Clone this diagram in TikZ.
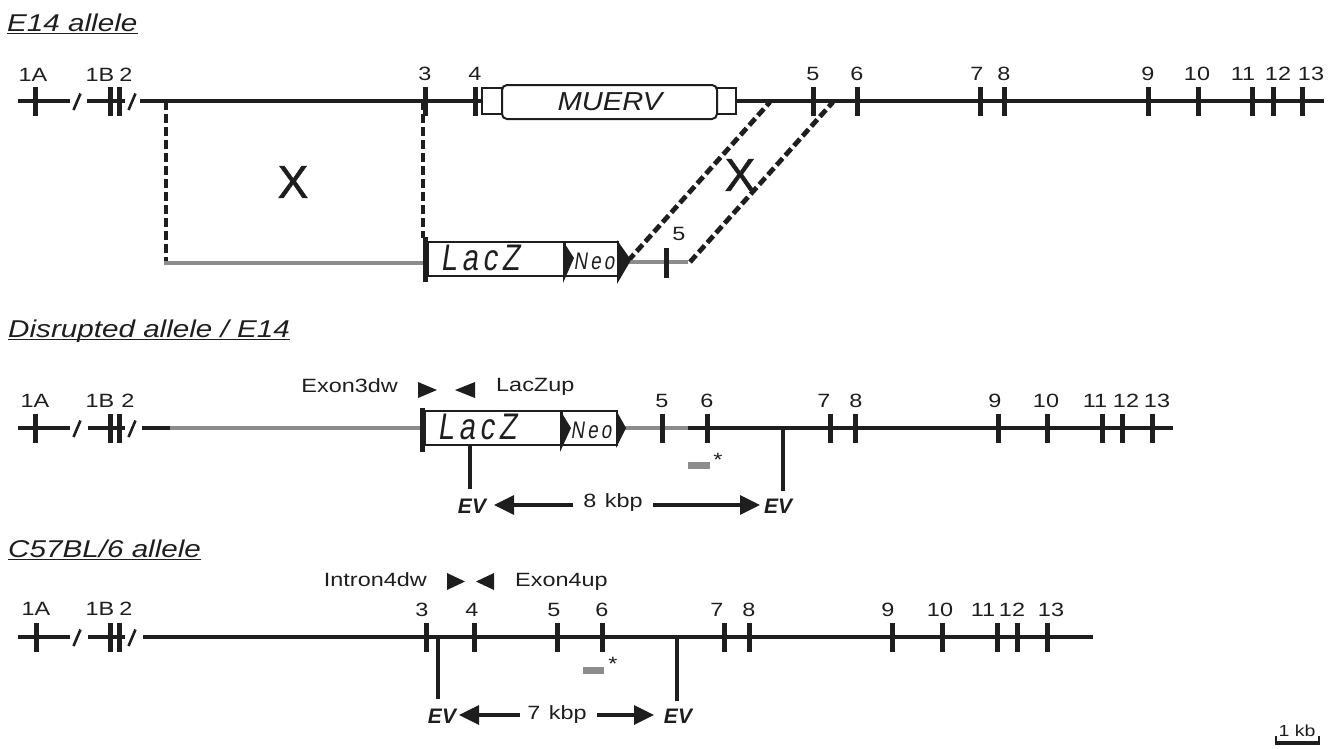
\documentclass[tikz,border=0pt]{standalone}
\usepackage{fontspec}
\setmainfont{Liberation Sans}
\newfontfamily\lblfont{Liberation Sans}[FakeStretch=1.22]
\newfontfamily\muervfont{Liberation Sans}[FakeStretch=1.12]
\newfontfamily\xfont{Liberation Sans}[FakeBold=1.2]
\newfontfamily\laczfont{Liberation Sans}[FakeStretch=0.78,FakeSlant=0.15,LetterSpace=13]
\usetikzlibrary{arrows.meta}
\definecolor{ink}{HTML}{1E1E1E}
\definecolor{gline}{HTML}{8C8C8C}
\newcommand\myexon[5]{\draw[tk] (#1,#2-14) -- (#1,#2+15); \node[lbl] (#4) at (#5,#2-27) {#3};}
\newcommand\myslash[2]{\draw[draw=ink,line width=2.6pt] (#1-3.5,#2+9) -- (#1+3.5,#2-7.5);}
\begin{document}
\begin{tikzpicture}[x=1pt,y=-1pt,
  bk/.style={draw=ink,line width=4.6pt},
  gy/.style={draw=gline,line width=4.6pt},
  tk/.style={draw=ink,line width=5pt},
  dsh/.style={draw=ink,line width=4.8pt,dash pattern=on 9pt off 4pt},
  boxln/.style={draw=ink,line width=2.6pt,fill=white},
  lbl/.style={inner sep=0pt,text=ink,font=\lblfont\fontsize{19.2}{20}\selectfont},
  ttl/.style={inner sep=0pt,anchor=base west,text=ink,font=\lblfont\itshape\fontsize{24.3}{26}\selectfont},
  ul/.style={draw=ink,line width=1.5pt},
  evl/.style={inner sep=0pt,text=ink,font=\bfseries\itshape\fontsize{21}{22}\selectfont},
  bigx/.style={inner sep=0pt,text=ink,font=\xfont\fontsize{46}{48}\selectfont},
  laczt/.style={inner sep=0pt,text=ink,font=\laczfont\fontsize{37}{38}\selectfont},
  neot/.style={inner sep=0pt,text=ink,font=\laczfont\fontsize{24}{25}\selectfont},
  arr/.style={draw=ink,line width=3.4pt,-{Triangle[length=20pt,width=19pt]}},
  primer/.style={fill=ink,draw=none},
  probe/.style={fill=gline,draw=none}
]
\useasboundingbox (0,0) rectangle (1342,748);

% ================= Row 1: E14 allele =================
\node[ttl] (t1) at (7,31) {E14 allele};
\draw[ul] ([yshift=-2.5pt]t1.base west) -- ([yshift=-2.5pt]t1.base east);

\draw[bk] (18,101) -- (70,101);
\draw[bk] (87,101) -- (125,101);
\draw[bk] (140,101) -- (482,101);
\draw[bk] (736,101) -- (1324,101);
\myslash{77}{101}
\myslash{132}{101}
\draw[tk] (35,87) -- (35,116);  \node[lbl] (a1) at (33,75) {1A};
\draw[tk] (110,87) -- (110,116); \node[lbl] (a1b) at (100,75) {1B};
\draw[tk] (119,87) -- (119,116); \node[lbl] (a2) at (126,75) {2};
\myexon{425}{101}{3}{a3}{425}
\myexon{475}{101}{4}{a4}{475}
\myexon{813}{101}{5}{a5}{813}
\myexon{857}{101}{6}{a6}{857}
\myexon{980}{101}{7}{a7}{977}
\myexon{1004}{101}{8}{a8}{1004}
\myexon{1148}{101}{9}{a9}{1148}
\myexon{1198}{101}{10}{a10}{1197}
\myexon{1252}{101}{11}{a11}{1243}
\myexon{1273}{101}{12}{a12}{1278}
\myexon{1302}{101}{13}{a13}{1311}

% MUERV element
\draw[draw=ink,line width=2pt,fill=white] (482,88) rectangle (502,114);
\draw[draw=ink,line width=2pt,fill=white] (717,88) rectangle (736,114);
\draw[draw=ink,line width=2pt,fill=white,rounded corners=5pt] (502,85) rectangle (717,119);
\node[inner sep=0pt,text=ink,font=\muervfont\itshape\fontsize{26}{28}\selectfont] (muerv) at (610,102) {MUERV};

% targeting vector
\draw[dsh] (166,101) -- (166,263);
\draw[dsh] (423,101) -- (423,238);
\draw[gy] (164,263) -- (425,263);
\draw[dsh] (628,261) -- (770,102);
\draw[dsh] (690,262) -- (833,102);
\node[bigx] (x1) at (293,182) {X};
\node[bigx] (x2) at (740,175) {X};

\draw[gy] (628,262) -- (688,262);
\draw[tk] (666,248) -- (666,278);
\node[lbl] (v5) at (679,234) {5};
\draw[boxln] (428,242) rectangle (565,276);
\draw[boxln] (565,242) rectangle (618,276);
\draw[draw=ink,line width=5pt] (425,237) -- (425,282);
\fill[ink] (563,241) -- (574,258) -- (563,283) -- cycle;
\fill[ink] (617,240) -- (631,260) -- (617,284) -- cycle;
\node[laczt] (lz1) at (480,258) {LacZ};
\node[neot] (ne1) at (594,261) {Neo};

% ================= Row 2: Disrupted allele =================
\node[ttl] (t2) at (8,337) {Disrupted allele / E14};
\draw[ul] ([yshift=-2.5pt]t2.base west) -- ([yshift=-2.5pt]t2.base east);

\draw[bk] (18,428) -- (70,428);
\draw[bk] (88,428) -- (125,428);
\draw[bk] (142,428) -- (171,428);
\draw[gy] (170,428) -- (422,428);
\draw[gy] (624,428) -- (689,428);
\draw[bk] (688,428) -- (1173,428);
\myslash{77}{428}
\myslash{132}{428}
\draw[tk] (35,414) -- (35,443);  \node[lbl] (b1) at (35,401) {1A};
\draw[tk] (110,414) -- (110,443); \node[lbl] (b1b) at (100,401) {1B};
\draw[tk] (119,414) -- (119,443); \node[lbl] (b2) at (128,401) {2};
\myexon{662}{428}{5}{b5}{662}
\myexon{707}{428}{6}{b6}{707}
\myexon{830}{428}{7}{b7}{824}
\myexon{855}{428}{8}{b8}{856}
\myexon{998}{428}{9}{b9}{995}
\myexon{1047}{428}{10}{b10}{1046}
\myexon{1102}{428}{11}{b11}{1095}
\myexon{1122}{428}{12}{b12}{1126}
\myexon{1152}{428}{13}{b13}{1157}

\draw[boxln] (425,411) rectangle (562,445);
\draw[boxln] (562,411) rectangle (617,445);
\draw[draw=ink,line width=5pt] (422,408) -- (422,452);
\fill[ink] (560,410) -- (571,428) -- (560,452) -- cycle;
\fill[ink] (616,410) -- (626,428) -- (616,448) -- cycle;
\node[laczt] (lz2) at (477,427) {LacZ};
\node[neot] (ne2) at (591,430) {Neo};

\fill[primer] (418,382) -- (437,390) -- (418,398) -- cycle;
\fill[primer] (475,382) -- (455,390) -- (475,398) -- cycle;
\node[lbl,anchor=east] (p1) at (398,386) {Exon3dw};
\node[lbl,anchor=west] (p2) at (496,387) {LacZup};

\draw[draw=ink,line width=4.5pt] (470,445) -- (470,489);
\draw[draw=ink,line width=4.5pt] (783,428) -- (783,491);
\node[evl] (ev1) at (472,506) {EV};
\node[evl] (ev2) at (778,506) {EV};
\node[lbl] (kb8) at (613,503) {8\hspace{0.45em}kbp};
\draw[arr] (573,505) -- (494,505);
\draw[arr] (653,505) -- (760,505);
\fill[probe] (688,462) rectangle (710,468.5);
\node[lbl] (s1) at (718,460) {*};

% ================= Row 3: C57BL/6 allele =================
\node[ttl] (t3) at (8,557) {C57BL/6 allele};
\draw[ul] ([yshift=-2.5pt]t3.base west) -- ([yshift=-2.5pt]t3.base east);

\draw[bk] (18,637) -- (70,637);
\draw[bk] (88,637) -- (125,637);
\draw[bk] (143,637) -- (1093,637);
\myslash{77}{637}
\myslash{132}{637}
\draw[tk] (36,623) -- (36,652);  \node[lbl] (c1) at (36,609) {1A};
\draw[tk] (110,623) -- (110,652); \node[lbl] (c1b) at (100,609) {1B};
\draw[tk] (119,623) -- (119,652); \node[lbl] (c2) at (126,609) {2};
\myexon{426}{637}{3}{c3}{422}
\myexon{474}{637}{4}{c4}{472}
\myexon{557}{637}{5}{c5}{554}
\myexon{602}{637}{6}{c6}{602}
\myexon{724}{637}{7}{c7}{717}
\myexon{749}{637}{8}{c8}{749}
\myexon{892}{637}{9}{c9}{888}
\myexon{942}{637}{10}{c10}{940}
\myexon{997}{637}{11}{c11}{983}
\myexon{1017}{637}{12}{c12}{1012}
\myexon{1047}{637}{13}{c13}{1051}

\fill[primer] (447,573) -- (465,581.5) -- (447,590) -- cycle;
\fill[primer] (494,573) -- (476,581.5) -- (494,590) -- cycle;
\node[lbl,anchor=east] (p3) at (427,580) {Intron4dw};
\node[lbl,anchor=west] (p4) at (515,582) {Exon4up};

\draw[draw=ink,line width=4.5pt] (438,637) -- (438,699);
\draw[draw=ink,line width=4.5pt] (677,637) -- (677,701);
\node[evl] (ev3) at (442,716) {EV};
\node[evl] (ev4) at (678,716) {EV};
\node[lbl] (kb7) at (557,715) {7\hspace{0.45em}kbp};
\draw[arr] (520,715) -- (459,715);
\draw[arr] (597,715) -- (654,715);
\fill[probe] (583,667) rectangle (604,673.5);
\node[lbl] (s2) at (613,664) {*};

% scale bar
\node[inner sep=0pt,text=ink,font=\lblfont\fontsize{16}{17}\selectfont] (kb) at (1297,731) {1 kb};
\draw[draw=ink,line width=3.5pt] (1275,743) -- (1320,743);
\draw[draw=ink,line width=1.5pt] (1276,736) -- (1276,745);
\draw[draw=ink,line width=1.5pt] (1319,736) -- (1319,745);
\end{tikzpicture}
\end{document}
